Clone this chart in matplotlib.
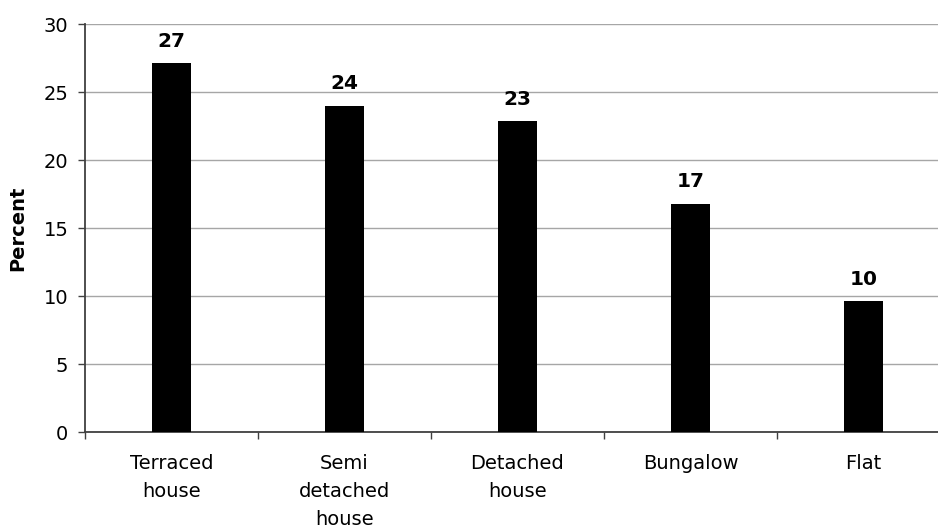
import matplotlib
matplotlib.use("Agg")
import matplotlib.pyplot as plt
import numpy as np

# Dwelling types and share of respondents (percent)
categories = ["Terraced\nhouse", "Semi\ndetached\nhouse", "Detached\nhouse", "Bungalow", "Flat"]
percent = [27.1, 24.0, 22.85, 16.8, 9.6]
y_ticks = [0, 5, 10, 15, 20, 25, 30]

plt.rcParams["font.family"] = ["DejaVu Sans"]

fig = plt.figure(figsize=(9.38, 5.27), dpi=100)
W, H = 938, 527
left, right, top, bottom = 85, 950, 24, 432
ax = fig.add_axes([left / W, (H - bottom) / H, (right - left) / W, (bottom - top) / H])

x = np.arange(len(categories))
ax.bar(x, percent, width=0.23, color="black", zorder=3)

for xi, v in zip(x, percent):
    ax.annotate(f"{v:.0f}", (xi, v), xytext=(0, 9), textcoords="offset points",
                ha="center", va="bottom", fontsize=14.5, fontweight="bold")

ax.set_xlim(-0.5, len(categories) - 0.5)
ax.set_ylim(0, 30)
ax.set_yticks(y_ticks)
ax.tick_params(axis="y", labelsize=14, length=5, width=1, color="#404040", pad=7)

# Category labels sit between the boundary ticks
ax.set_xticks(x)
ax.set_xticklabels(categories, fontsize=14, linespacing=1.6)
ax.tick_params(axis="x", which="major", length=0, pad=16)
ax.set_xticks(np.arange(len(categories) + 1) - 0.5, minor=True)
ax.tick_params(axis="x", which="minor", length=5, width=1, color="#404040")

ax.yaxis.grid(True, color="#a6a6a6", linewidth=1, zorder=0)
ax.set_axisbelow(True)
for s in ["top", "right"]:
    ax.spines[s].set_visible(False)
for s in ["left", "bottom"]:
    ax.spines[s].set_color("#404040")
    ax.spines[s].set_linewidth(1.3)

ax.set_ylabel("Percent", fontsize=14, fontweight="bold", labelpad=12)

fig.savefig("out.png", dpi=100)
